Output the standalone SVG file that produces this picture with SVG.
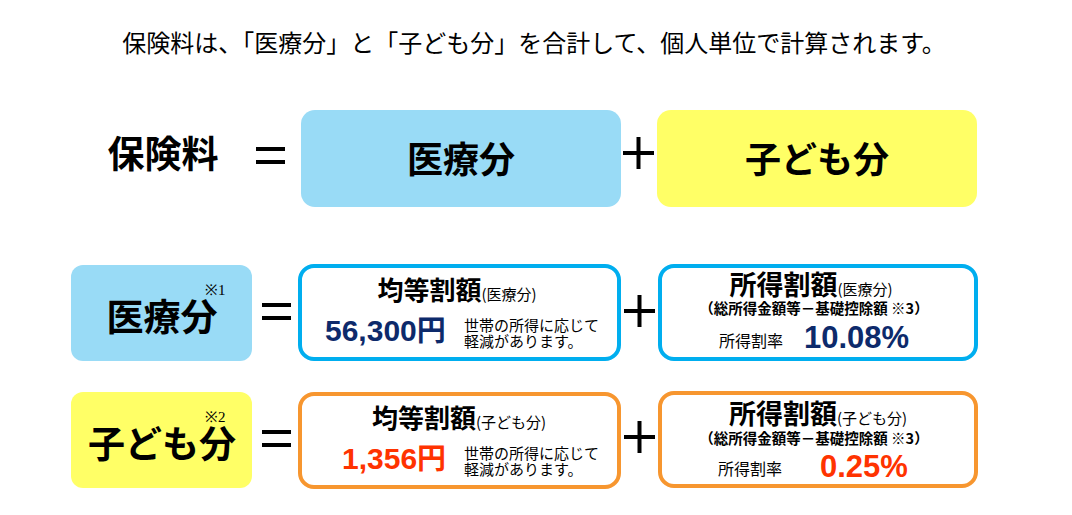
<svg xmlns="http://www.w3.org/2000/svg" width="1072" height="515" viewBox="0 0 1072 515">
<style>
.jp{font-family:"Noto Sans CJK JP","Noto Sans",sans-serif;fill:#000}
.b{font-weight:bold}
.num{font-family:"Liberation Sans",Arial,sans-serif;font-weight:bold}
.blue{fill:#99DBF6}
.yel{fill:#FFFF66}
.ob{fill:#fff;stroke:#00AEEF;stroke-width:4}
.oo{fill:#fff;stroke:#F7962F;stroke-width:4}
.navy{fill:#0D2A6B}
.red{fill:#FF3300}
.op{stroke:#000;stroke-width:4}
.sup{font-family:"Liberation Serif",serif;font-size:15px}
.note{font-size:15px}
</style>
<rect width="1072" height="515" fill="#fff"/>
<text class="jp" x="534" y="52" font-size="24" text-anchor="middle">保険料は、「医療分」と「子ども分」を合計して、個人単位で計算されます。</text>

<g id="row1">
<text class="jp b" x="163" y="168" font-size="37" text-anchor="middle">保険料</text>
<g id="eq1" class="op"><line x1="256" y1="149" x2="285" y2="149"/><line x1="256" y1="162" x2="285" y2="162"/></g>
<g id="iryo-top"><rect class="blue" x="301" y="110" width="320" height="97" rx="14"/>
<text class="jp b" x="461" y="173" font-size="36" text-anchor="middle">医療分</text></g>
<g id="plus1" class="op"><line x1="623" y1="153" x2="654" y2="153"/><line x1="638.5" y1="137" x2="638.5" y2="169"/></g>
<g id="kodomo-top"><rect class="yel" x="657" y="110" width="320" height="97" rx="14"/>
<text class="jp b" x="817" y="173" font-size="36" text-anchor="middle">子ども分</text></g>
</g>

<g id="row2">
<g id="iryo-label"><rect class="blue" x="71" y="265" width="181" height="96" rx="12"/>
<text class="jp b" x="162" y="331" font-size="37" text-anchor="middle">医療分</text>
<text class="sup" x="205" y="295">※1</text></g>
<g id="eq2" class="op"><line x1="262" y1="305" x2="291" y2="305"/><line x1="262" y1="318" x2="291" y2="318"/></g>
<g id="kintou-iryo"><rect class="ob" x="300" y="266" width="319" height="93" rx="14"/>
<text class="jp" x="457" y="300" text-anchor="middle"><tspan class="b" font-size="26">均等割額</tspan><tspan font-size="15">(医療分)</tspan></text>
<text class="num navy" x="325" y="341" font-size="30">56,300<tspan class="jp b navy" font-size="29">円</tspan></text>
<text class="jp note" x="464" y="331">世帯の所得に応じて</text>
<text class="jp note" x="464" y="347">軽減があります。</text></g>
<g id="plus2" class="op"><line x1="624" y1="311" x2="655" y2="311"/><line x1="639.5" y1="295" x2="639.5" y2="327"/></g>
<g id="shotoku-iryo"><rect class="ob" x="660" y="266" width="316" height="93" rx="14"/>
<text class="jp" x="811" y="295" text-anchor="middle"><tspan class="b" font-size="27">所得割額</tspan><tspan font-size="15">(医療分)</tspan></text>
<text class="jp b" x="814" y="314" font-size="14.5" text-anchor="middle">（総所得金額等－基礎控除額 ※3）</text>
<text class="jp" x="719" y="347" font-size="16">所得割率</text>
<text class="num navy" x="804" y="348" font-size="31">10.08%</text></g>
</g>

<g id="row3">
<g id="kodomo-label"><rect class="yel" x="71" y="392" width="181" height="96" rx="12"/>
<text class="jp b" x="162" y="458" font-size="37" text-anchor="middle">子ども分</text>
<text class="sup" x="205" y="422">※2</text></g>
<g id="eq3" class="op"><line x1="262" y1="432" x2="291" y2="432"/><line x1="262" y1="445" x2="291" y2="445"/></g>
<g id="kintou-kodomo"><rect class="oo" x="300" y="394" width="319" height="93" rx="14"/>
<text class="jp" x="459" y="428" text-anchor="middle"><tspan class="b" font-size="26">均等割額</tspan><tspan font-size="15">(子ども分)</tspan></text>
<text class="num red" x="342" y="469" font-size="30">1,356<tspan class="jp b red" font-size="29">円</tspan></text>
<text class="jp note" x="464" y="459">世帯の所得に応じて</text>
<text class="jp note" x="464" y="475">軽減があります。</text></g>
<g id="plus3" class="op"><line x1="624" y1="437" x2="655" y2="437"/><line x1="639.5" y1="421" x2="639.5" y2="453"/></g>
<g id="shotoku-kodomo"><rect class="oo" x="660" y="393" width="316" height="93" rx="14"/>
<text class="jp" x="818" y="424" text-anchor="middle"><tspan class="b" font-size="27">所得割額</tspan><tspan font-size="15">(子ども分)</tspan></text>
<text class="jp b" x="814" y="444" font-size="14.5" text-anchor="middle">（総所得金額等－基礎控除額 ※3）</text>
<text class="jp" x="718" y="475" font-size="16">所得割率</text>
<text class="num red" x="820" y="477" font-size="31">0.25%</text></g>
</g>
</svg>
